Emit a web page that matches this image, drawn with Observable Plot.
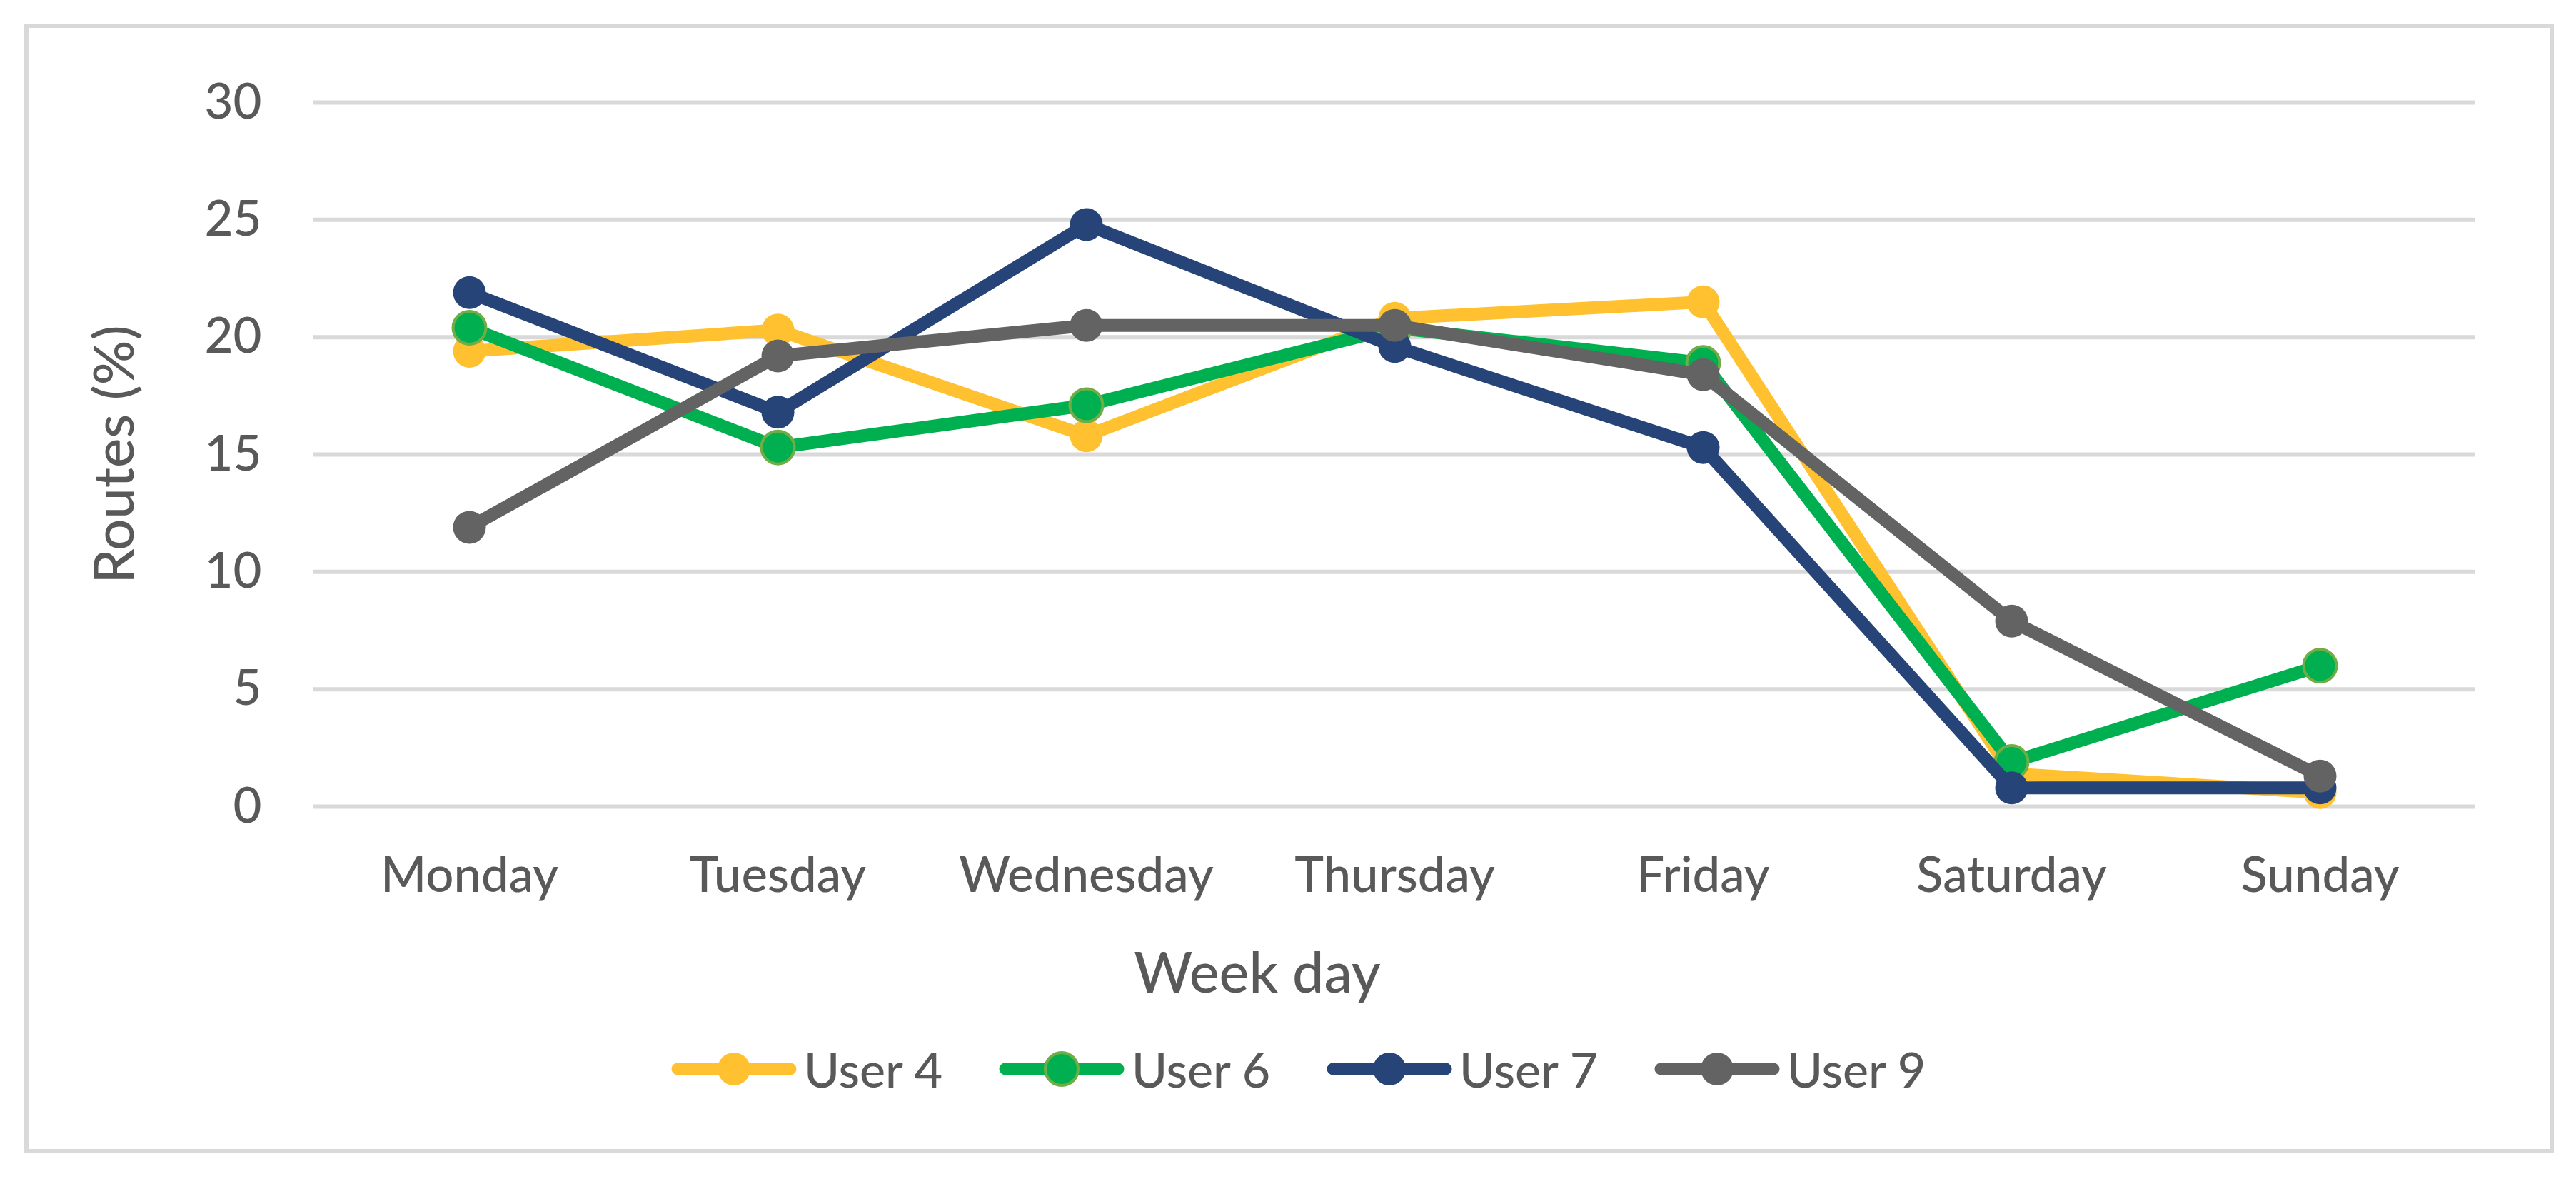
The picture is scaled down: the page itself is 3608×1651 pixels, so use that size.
<!DOCTYPE html>
<html>
<head>
<meta charset="utf-8">
<script src="https://cdn.jsdelivr.net/npm/d3@7"></script>
<script src="https://cdn.jsdelivr.net/npm/@observablehq/plot@0.6"></script>
<style>
  html, body { margin: 0; padding: 0; background: #fff; }
  #root { position: relative; width: 3608px; height: 1651px; overflow: hidden; font-family: Lato, "Open Sans", sans-serif; color: #595959; }
  #frame { position: absolute; left: 34px; top: 33px; width: 3543px; height: 1582px; box-sizing: border-box; border: 6px solid #d9d9d9; pointer-events: none; }
  #chart { position: absolute; left: 0; top: 0; }
  #legend { position: absolute; left: 940px; top: 1472px; height: 50px; display: flex; }
  .item { display: inline-flex; align-items: center; width: 459px; height: 50px; }
  .item span { font-size: 68px; font-weight: 500; margin-left: 10px; line-height: 50px; color: #595959; }
</style>
</head>
<body>
<div id="root">
  <div id="chart"></div>
  <div id="legend"></div>
  <div id="frame"></div>
</div>
<script>
const days = ["Monday", "Tuesday", "Wednesday", "Thursday", "Friday", "Saturday", "Sunday"];
const users = ["User 4", "User 6", "User 7", "User 9"];
const user4 = [19.4, 20.3, 15.8, 20.8, 21.5, 1.4, 0.6];
const user6 = [20.4, 15.3, 17.1, 20.4, 18.9, 1.9, 6.0];
const user7 = [21.9, 16.8, 24.8, 19.6, 15.3, 0.8, 0.8];
const user9 = [11.9, 19.2, 20.5, 20.5, 18.4, 7.9, 1.3];
const yTicks = [0, 5, 10, 15, 20, 25, 30];
const colors = ["#FFC12F", "#00B050", "#264478", "#636363"];
const markerStrokes = ["none", "#70AD47", "none", "none"];

const series = [user4, user6, user7, user9];
const rows = users.flatMap((u, i) => series[i].map((v, j) => ({user: u, day: days[j], value: v})));

const seriesMarks = users.flatMap((u, i) => {
  const d = rows.filter(r => r.user === u);
  return [
    Plot.line(d, {x: "day", y: "value", stroke: "user", strokeWidth: 18, strokeLinejoin: "round", strokeLinecap: "butt"}),
    Plot.dot(d, {x: "day", y: "value", fill: "user", r: 23, stroke: markerStrokes[i], strokeWidth: 4})
  ];
});

const chart = Plot.plot({
  width: 3608,
  height: 1420,
  marginLeft: 438,
  marginRight: 141,
  marginTop: 143,
  marginBottom: 291,
  style: {fontFamily: "Lato, 'Open Sans', sans-serif", fontWeight: 500, color: "#595959", background: "transparent", overflow: "visible"},
  x: {type: "point", domain: days, padding: 0.5},
  y: {domain: [0, 30]},
  color: {domain: users, range: colors},
  marks: [
    Plot.ruleY(yTicks, {stroke: "#d9d9d9", strokeWidth: 6}),
    Plot.axisY({ticks: yTicks, tickSize: 0, tickPadding: 72, fontSize: 69, label: null}),
    Plot.axisX({tickSize: 0, tickPadding: 70, fontSize: 69, label: null}),
    ...seriesMarks,
    Plot.text(["Routes (%)"], {frameAnchor: "left", textAnchor: "middle", rotate: -90, dx: -276, fontSize: 78, fill: "#595959"}),
    Plot.text(["Week day"], {frameAnchor: "bottom", lineAnchor: "top", dx: -192, dy: 204, fontSize: 79, fill: "#595959"})
  ]
});
document.getElementById("chart").appendChild(chart);

const legend = document.getElementById("legend");
users.forEach((u, i) => {
  const item = document.createElement("div");
  item.className = "item";
  const stroke = markerStrokes[i] === "none" ? "" : `stroke="${markerStrokes[i]}" stroke-width="4"`;
  item.innerHTML = `<svg width="176" height="50" viewBox="0 0 176 50">
      <line x1="9" x2="167" y1="25" y2="25" stroke="${colors[i]}" stroke-width="17" stroke-linecap="round"/>
      <circle cx="88" cy="25" r="23" fill="${colors[i]}" ${stroke}/>
    </svg><span>${u}</span>`;
  legend.appendChild(item);
});
</script>
</body>
</html>
